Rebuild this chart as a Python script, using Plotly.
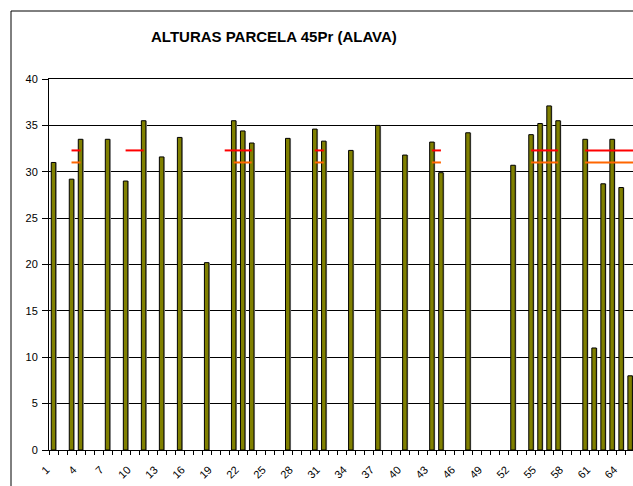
import plotly.graph_objects as go

# Data
categories = list(range(1, 67))
bar_cats = [1, 3, 4, 7, 9, 11, 13, 15, 18, 21, 22, 23, 27, 30, 31, 34, 37, 40,
            43, 44, 47, 52, 54, 55, 56, 57, 60, 61, 62, 63, 64, 65]
bar_vals = [31.0, 29.2, 33.5, 33.5, 29.0, 35.5, 31.6, 33.7, 20.2, 35.5, 34.4, 33.1,
            33.6, 34.6, 33.3, 32.3, 35.0, 31.8, 33.2, 29.9, 34.2, 30.7, 34.0, 35.2,
            37.1, 35.5, 33.5, 11.0, 28.7, 33.5, 28.3, 8.0]
red_level = 32.3
orange_level = 31.0
red_cats = [3, 4, 9, 10, 11, 20, 21, 22, 23, 30, 31, 43, 44, 54, 55, 56, 57,
            60, 61, 62, 63, 64, 65, 66]
orange_cats = [3, 4, 21, 22, 23, 30, 31, 43, 44, 54, 55, 56, 57,
               60, 61, 62, 63, 64, 65, 66]
tick_vals = list(range(1, 67, 3))
tick_text = [str(v) for v in tick_vals]
title_text = "ALTURAS PARCELA 45Pr (ALAVA)"

red_y = [red_level if c in red_cats else None for c in categories]
orange_y = [orange_level if c in orange_cats else None for c in categories]

FONT = "Arial, Liberation Sans, sans-serif"
W, H = 633, 486
L, R, T, B = 49, 0, 79, 36

fig = go.Figure()
# shadow
fig.add_trace(go.Bar(x=bar_cats, y=bar_vals, width=0.5, offset=-0.25 + 0.12,
                     marker=dict(color="#b8b8b8", line=dict(width=0)),
                     hoverinfo="skip", showlegend=False))
fig.add_trace(go.Bar(x=bar_cats, y=bar_vals, width=0.5, offset=-0.25,
                     marker=dict(color="#808000", line=dict(color="black", width=1)),
                     showlegend=False))
fig.add_trace(go.Scatter(x=categories, y=red_y, mode="lines",
                         line=dict(color="#ff0000", width=2), connectgaps=False,
                         showlegend=False))
fig.add_trace(go.Scatter(x=categories, y=orange_y, mode="lines",
                         line=dict(color="#ff6600", width=2), connectgaps=False,
                         showlegend=False))

pw = W - L - R
ph = H - T - B
fig.update_layout(
    width=W, height=H,
    margin=dict(l=L, r=R, t=T, b=B, pad=0, autoexpand=False),
    paper_bgcolor="white", plot_bgcolor="white",
    barmode="overlay", bargap=0.5,
    font=dict(family=FONT, size=11, color="black"),
    showlegend=False,
    annotations=[dict(text="<b>" + title_text + "</b>", xref="paper", yref="paper",
                      x=(274 - L) / pw, y=(H - B - 36) / ph, xanchor="center",
                      yanchor="middle", showarrow=False,
                      font=dict(family=FONT, size=15, color="black"))],
    shapes=[dict(type="rect", xref="paper", yref="paper",
                 x0=(11 - L) / pw, x1=1.2, y0=-0.3, y1=(H - B - 11) / ph,
                 line=dict(color="black", width=1), layer="below")],
)
fig.update_xaxes(range=[0.5, 0.5 + (W - L) / 9.01], tickmode="array",
                 tickvals=tick_vals, ticktext=tick_text, tickangle=-45,
                 ticks="", showgrid=False, zeroline=False, automargin=False,
                 showline=True, mirror=True, linecolor="black", linewidth=1,
                 ticklabelstandoff=8, ticklabelshift=-7,
                 tickfont=dict(family=FONT, size=11, color="black"),
                 minor=dict(tickmode="linear", tick0=0.5, dtick=1, ticks="outside",
                            ticklen=4, tickcolor="black", showgrid=False))
fig.update_yaxes(range=[0, 40], tickmode="linear", tick0=0, dtick=5,
                 showgrid=True, gridcolor="black", gridwidth=1, zeroline=False,
                 showline=True, linecolor="black", linewidth=1, automargin=False,
                 ticks="outside", ticklen=6, tickcolor="black", ticklabelstandoff=2,
                 tickfont=dict(family=FONT, size=11, color="black"))

fig.write_html("out.html", config={"displayModeBar": False},
               post_script="document.body.style.margin='0';document.body.style.overflow='hidden';")
